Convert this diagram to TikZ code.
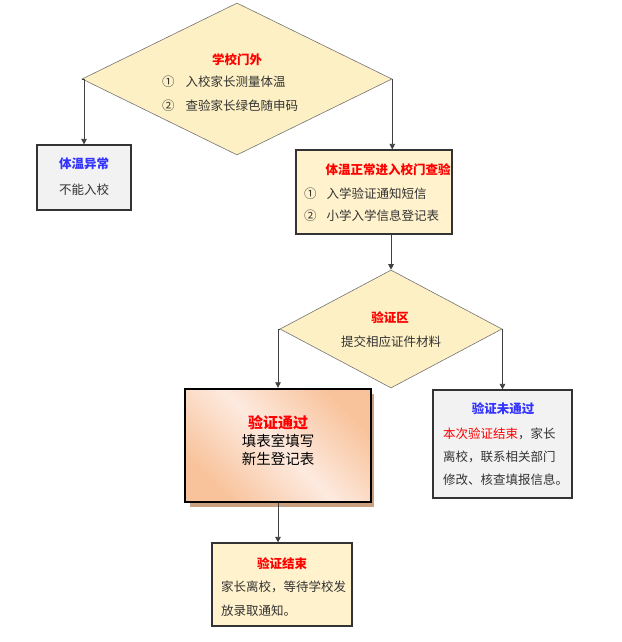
\documentclass[tikz,border=0pt]{standalone}
\usepackage{fontspec}
\newfontfamily\cjk{Noto Sans CJK SC}
\usetikzlibrary{shapes.geometric,arrows.meta}
\definecolor{gatefill}{HTML}{FDF0C4}
\definecolor{notefill}{HTML}{FFF2CC}
\definecolor{grayfill}{HTML}{F2F2F2}
\definecolor{peach}{HTML}{F8C29A}
\definecolor{peachlight}{HTML}{FDEADF}
\definecolor{peachshadow}{HTML}{C9A080}
\definecolor{txtgray}{HTML}{333333}
\definecolor{titlered}{HTML}{FF0000}
\definecolor{titleblue}{HTML}{3333FF}
\begin{document}
\begin{tikzpicture}[x=1pt,y=-1pt,
		txt/.style={font=\cjk\fontsize{12.5}{15}\selectfont,text=txtgray,inner sep=0pt},
		red title/.style={txt,font=\cjk\bfseries\fontsize{12.5}{15}\selectfont,text=titlered},
		blue title/.style={txt,font=\cjk\bfseries\fontsize{12.5}{15}\selectfont,text=titleblue},
		gatebox/.style={diamond,draw=black!55,line width=.6pt,fill=gatefill,inner sep=0pt},
		infobox/.style={rectangle,draw=txtgray,line width=1.2pt,inner sep=0pt},
		arr/.style={draw=black!75,line width=.8pt,-{Triangle[width=5.5pt,length=5.5pt]}}]
	\useasboundingbox (0,0) rectangle (621,642);
	% school gate
	\node[gatebox,minimum width=310pt,minimum height=152pt] (gate) at (237,79) {};
	\node[red title] (gatetitle) at (237,60) {学校门外};
	\node[txt,anchor=west] (gateone) at (162,82) {①\hspace{11pt}入校家长测量体温};
	\node[txt,anchor=west] (gatetwo) at (162,106) {②\hspace{11pt}查验家长绿色随申码};
	% abnormal temperature
	\node[infobox,fill=grayfill,minimum width=94pt,minimum height=65pt] (abn) at (84,177.5) {};
	\node[blue title] (abntitle) at (84,164) {体温异常};
	\node[txt] (abntext) at (84,190) {不能入校};
	% normal temperature
	\node[infobox,fill=notefill,minimum width=156pt,minimum height=84pt] (normal) at (374,192) {};
	\node[red title] (normaltitle) at (388,170) {体温正常进入校门查验};
	\node[txt,anchor=west] (normalone) at (304,194) {①\hspace{10pt}入学验证通知短信};
	\node[txt,anchor=west] (normaltwo) at (304,216) {②\hspace{10pt}小学入学信息登记表};
	% check area
	\node[gatebox,minimum width=222pt,minimum height=118pt] (check) at (391,329) {};
	\node[red title] (checktitle) at (390,318) {验证区};
	\node[txt] (checktext) at (391,342) {提交相应证件材料};
	% passed, shadow first
	\fill[peachshadow] (190,394) rectangle (374,507);
	\node[rectangle,draw=black,line width=2.4pt,minimum width=186pt,minimum height=113pt,
		shading=axis,top color=peach,bottom color=peach,middle color=peachlight,shading angle=-45] (pass) at (278,445.5) {};
	\node[red title,font=\cjk\bfseries\fontsize{15}{18}\selectfont] (passtitle) at (278,423) {验证通过};
	\node[txt,text=black,font=\cjk\fontsize{14.5}{18}\selectfont] (passone) at (278,441) {填表室填写};
	\node[txt,text=black,font=\cjk\fontsize{14.5}{18}\selectfont] (passtwo) at (278,459) {新生登记表};
	% failed
	\node[infobox,fill=grayfill,minimum width=139pt,minimum height=108pt] (fail) at (502.5,444) {};
	\node[blue title] (failtitle) at (503,409) {验证未通过};
	\node[txt,anchor=west] (failone) at (443,434) {\textcolor{titlered}{本次验证结束}，家长};
	\node[txt,anchor=west] (failtwo) at (443,457) {离校，联系相关部门};
	\node[txt,anchor=west] (failthree) at (443,480) {修改、核查填报信息。};
	% finished
	\node[infobox,fill=notefill,minimum width=140pt,minimum height=83pt] (done) at (282,584.5) {};
	\node[red title] (donetitle) at (282,564) {验证结束};
	\node[txt,anchor=west] (doneone) at (221,587) {家长离校，等待学校发};
	\node[txt,anchor=west] (donetwo) at (221,611) {放录取通知。};
	% connectors
	\draw[arr] (gate.west) -| (abn.north);
	\draw[arr] (gate.east) -- (gate.east |- normal.north);
	\draw[arr] (normal.south -| check.north) -- (check.north);
	\draw[arr] (check.west) -| (pass.north);
	\draw[arr] (check.east) -| (fail.north);
	\draw[arr] (pass.south) -- (pass.south |- done.north);
\end{tikzpicture}
\end{document}
